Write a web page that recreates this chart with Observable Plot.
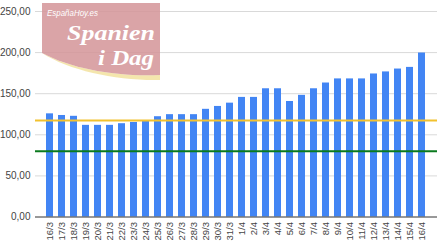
<!DOCTYPE html>
<html>
<head>
<meta charset="utf-8">
<script src="https://cdn.jsdelivr.net/npm/d3@7"></script>
<script src="https://cdn.jsdelivr.net/npm/@observablehq/plot@0.6"></script>
<style>
  html, body { margin: 0; padding: 0; background: #fff; }
  #wrap { position: relative; width: 440px; height: 247px; }
  #logo { position: absolute; left: 0; top: 0; pointer-events: none; }
</style>
</head>
<body>
<div id="wrap"></div>
<script>
const dates = ["16/3","17/3","18/3","19/3","20/3","21/3","22/3","23/3","24/3","25/3","26/3","27/3","28/3","29/3","30/3","31/3",
  "1/4","2/4","3/4","4/4","5/4","6/4","7/4","8/4","9/4","10/4","11/4","12/4","13/4","14/4","15/4","16/4"];
const values = [125.5,123.5,122.5,111.5,111.5,111.5,113.5,115,117,122,124.5,124.5,124.5,131,134.5,138.5,
  145.5,145.5,156,156,140.5,148,156,163,168,168,168,174,176.5,180,182,199.5];
const yTicks = [0,50,100,150,200,250];
const yellowLine = [117.5];
const greenLine = [80];

const data = dates.map((d, i) => ({date: d, value: values[i]}));
const fmt = v => d3.format(".2f")(v).replace(".", ",");

const chart = Plot.plot({
  width: 440,
  height: 247,
  marginLeft: 35,
  marginRight: 3,
  marginTop: 11,
  marginBottom: 30.5,
  style: {fontFamily: "Liberation Sans, Arial, sans-serif", fontSize: "10px", color: "#444", background: "#fff"},
  x: {domain: dates, paddingInner: 0.41, paddingOuter: 0.39, label: null},
  y: {domain: [0, 250], label: null},
  marks: [
    Plot.gridY(yTicks.filter(t => t > 0), {stroke: "#d9d9d9", strokeOpacity: 1}),
    Plot.barY(data, {x: "date", y: "value", fill: "#4285f4"}),
    Plot.ruleY([0], {stroke: "#333", strokeWidth: 1}),
    Plot.ruleY(yellowLine, {stroke: "#f2c12e", strokeWidth: 2}),
    Plot.ruleY(greenLine, {stroke: "#0b7a1e", strokeWidth: 2}),
    Plot.axisY(yTicks, {tickSize: 0, tickPadding: 5, tickFormat: fmt, fontSize: 10, fill: "#444"}),
    Plot.axisX({tickSize: 0, tickPadding: 5, tickRotate: -90, fontSize: 9.5, fill: "#444"})
  ]
});
const wrap = document.getElementById("wrap");
wrap.appendChild(chart);

const ns = "http://www.w3.org/2000/svg";
const logo = document.createElementNS(ns, "svg");
logo.setAttribute("id", "logo");
logo.setAttribute("width", 440);
logo.setAttribute("height", 247);
logo.innerHTML = `
  <path d="M42,53 C70,71 118,81 160,80 L160,75 C118,77 72,69 42,53 Z" fill="#f3e3a4" opacity="0.9"/>
  <path d="M42,3 L160,3 L160,75 C118,77 72,69 42,53 Z" fill="#d49498" opacity="0.85"/>
  <text x="47" y="16" fill="#fff" font-family="Liberation Sans, Arial, sans-serif" font-style="italic" font-size="9" textLength="51" lengthAdjust="spacingAndGlyphs">EspañaHoy.es</text>
  <text x="67" y="40" fill="#fff" font-family="Liberation Serif, Times New Roman, serif" font-style="italic" font-weight="bold" font-size="22" textLength="88" lengthAdjust="spacingAndGlyphs">Spanien</text>
  <text x="98" y="65" fill="#fff" font-family="Liberation Serif, Times New Roman, serif" font-style="italic" font-weight="bold" font-size="22" textLength="56" lengthAdjust="spacingAndGlyphs">i Dag</text>
`;
wrap.appendChild(logo);
</script>
</body>
</html>
